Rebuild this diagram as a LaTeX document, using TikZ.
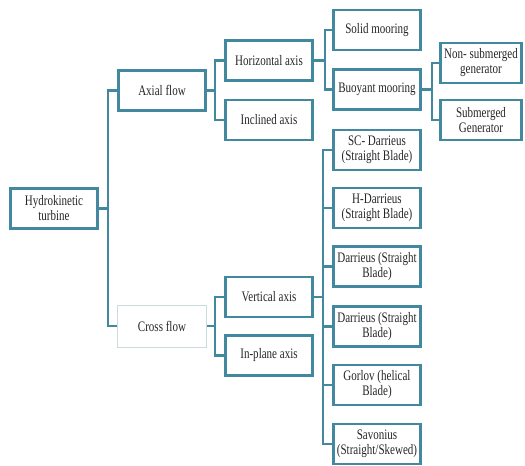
\documentclass[tikz,border=0pt]{standalone}
\usepackage{fontspec}
\setmainfont{Liberation Serif}[FakeStretch=0.76]
\usepackage{tikz}
\usetikzlibrary{calc}
\definecolor{tealline}{HTML}{4289A0}
\definecolor{paleline}{HTML}{C8DCDD}
\tikzset{
  box/.style={draw=tealline,line width=2.4pt,minimum width=87pt,minimum height=40pt,align=center,inner sep=1pt,text=black!85,font=\fontsize{14.5}{15}\selectfont},
  palebox/.style={box,draw=paleline,line width=0.9pt,minimum width=89pt,minimum height=42pt},
  link/.style={draw=tealline,line width=2.6pt}
}

\begin{document}
\begin{tikzpicture}[x=1pt,y=-1pt]
\useasboundingbox (0,0) rectangle (525,466);

\node[box] (turbine) at (54,208.5) {Hydrokinetic\\turbine};

\node[box] (axial) at (162,90.5) {Axial flow};
\node[palebox] (cross) at (162,326) {Cross flow};

\node[box] (horiz) at (269,60.5) {Horizontal axis};
\node[box] (incl) at (269,120) {Inclined axis};
\node[box] (vert) at (269,297) {Vertical axis};
\node[box] (inplane) at (269,355.5) {In-plane axis};

\node[box] (solid) at (377,30) {Solid mooring};
\node[box] (buoy) at (377,89.5) {Buoyant mooring};
\node[box] (scd) at (377,150) {SC- Darrieus\\(Straight Blade)};
\node[box] (hd) at (377,208) {H-Darrieus\\(Straight Blade)};
\node[box] (dar1) at (377,266.5) {Darrieus (Straight\\Blade)};
\node[box] (dar2) at (377,326.5) {Darrieus (Straight\\Blade)};
\node[box] (gorlov) at (377,385) {Gorlov (helical\\Blade)};
\node[box] (savon) at (377,444) {Savonius\\(Straight/Skewed)};

\node[box,minimum width=81pt] (nonsub) at (481,63) {Non- submerged\\generator};
\node[box,minimum width=81pt] (sub) at (481,120) {Submerged\\Generator};

% buses
\coordinate (b1) at (108,208.5);
\coordinate (b2) at (215,90.5);
\coordinate (b3) at (215,326);
\coordinate (b4) at (325,60.5);
\coordinate (b5) at (323,297);
\coordinate (b6) at (432,89.5);

\draw[link] (turbine.east) -- (b1);
\draw[link] (axial.west) -| (b1);
\draw[link] (cross.west) -| (b1);

\draw[link] (axial.east) -- (b2);
\draw[link] (horiz.west) -| (b2);
\draw[link] (incl.west) -| (b2);

\draw[link] (cross.east) -- (b3);
\draw[link] (vert.west) -| (b3);
\draw[link] (inplane.west) -| (b3);

\draw[link] (horiz.east) -- (b4);
\draw[link] (solid.west) -| (b4);
\draw[link] (buoy.west) -| (b4);

\draw[link] (vert.east) -- (b5);
\foreach \n in {scd,hd,dar1,dar2,gorlov,savon}
  \draw[link] (\n.west) -| (b5);

\draw[link] (buoy.east) -- (b6);
\draw[link] (nonsub.west) -| (b6);
\draw[link] (sub.west) -| (b6);
\end{tikzpicture}
\end{document}
